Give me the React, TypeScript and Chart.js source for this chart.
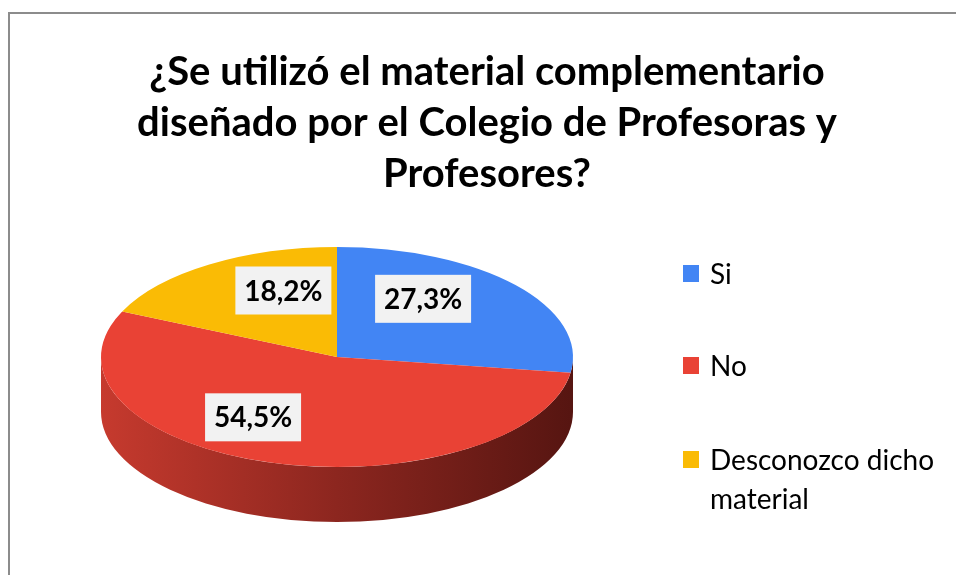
import React, { useEffect, useRef } from "react";
import { Chart, registerables } from "chart.js";

Chart.register(...registerables);

const categories = ["Si", "No", "Desconozco dicho material"];
const legendLines = [["Si"], ["No"], ["Desconozco dicho", "material"]];
const values = [27.3, 54.5, 18.2];
const valueLabels = ["27,3%", "54,5%", "18,2%"];
const titleLines = [
  "¿Se utilizó el material complementario",
  "diseñado por el Colegio de Profesoras y",
  "Profesores?",
];

const topColors = ["#4285f4", "#e94235", "#fabb05"];
const sideStops = [
  ["#2d5db0", "#1d3d75"],
  ["#c63a2e", "#8c261f", "#561511"],
  ["#b08603", "#705502"],
];
const labelNudge = [
  [-21, -15],
  [-44, -3],
  [23, -11],
];

const FONT = "Lato, 'Open Sans', sans-serif";
const CY = 357;
const RY = 110;
const DEPTH = 55;
const MIN_SIDE = 0.2; // side slivers narrower than this merge into the next slice's side

const pie3d = {
  id: "pie3d",
  beforeDatasetsDraw(chart: any) {
    const ctx = chart.ctx;
    const meta = chart.getDatasetMeta(0);
    const a0 = meta.data[0];
    const cx = a0.x;
    const cy0 = a0.y;
    const R = a0.outerRadius;
    const twoPi = Math.PI * 2;
    const segs: { s: number; e: number; i: number }[] = [];
    meta.data.forEach((arc: any, i: number) => {
      for (let off = -twoPi; off <= twoPi; off += twoPi) {
        const ss = Math.max(arc.startAngle + off, 0);
        const ee = Math.min(arc.endAngle + off, Math.PI);
        if (ee > ss) segs.push({ s: ss, e: ee, i });
      }
    });
    segs.sort((a, b) => a.s - b.s);
    const merged: { s: number; e: number; i: number }[] = [];
    segs.forEach((sg, k) => {
      if (sg.e - sg.s < MIN_SIDE && k + 1 < segs.length) {
        segs[k + 1].s = sg.s;
      } else merged.push(sg);
    });
    merged.forEach(({ s, e, i }) => {
      const g = ctx.createLinearGradient(cx - R, 0, cx + R, 0);
      const st = sideStops[i];
      st.forEach((c, j) => g.addColorStop(j / (st.length - 1), c));
      ctx.save();
      ctx.beginPath();
      ctx.ellipse(cx, CY, R, RY, 0, s, e, false);
      ctx.ellipse(cx, CY + DEPTH, R, RY, 0, e, s, true);
      ctx.closePath();
      ctx.fillStyle = g;
      ctx.fill();
      ctx.restore();
    });
    ctx.save();
    ctx.translate(0, CY);
    ctx.scale(1, RY / R);
    ctx.translate(0, -cy0);
  },
  afterDatasetsDraw(chart: any) {
    const ctx = chart.ctx;
    ctx.restore();
    const meta = chart.getDatasetMeta(0);
    ctx.save();
    meta.data.forEach((arc: any, i: number) => {
      const mid = (arc.startAngle + arc.endAngle) / 2;
      const R = arc.outerRadius;
      const px = arc.x + 0.6 * R * Math.cos(mid) + labelNudge[i][0];
      const py = CY + 0.6 * RY * Math.sin(mid) + labelNudge[i][1];
      ctx.fillStyle = "#f2f2f2";
      ctx.fillRect(px - 48, py - 24, 96, 48);
      ctx.fillStyle = "#000000";
      ctx.font = `bold 28px ${FONT}`;
      ctx.textAlign = "center";
      ctx.textBaseline = "middle";
      ctx.fillText(valueLabels[i], px, py + 1);
    });
    ctx.restore();
  },
  afterDraw(chart: any) {
    const ctx = chart.ctx;
    ctx.save();
    ctx.strokeStyle = "#8c8c8c";
    ctx.lineWidth = 2;
    ctx.beginPath();
    ctx.moveTo(9, 600);
    ctx.lineTo(9, 13);
    ctx.lineTo(1000, 13);
    ctx.stroke();
    ctx.fillStyle = "#000000";
    ctx.font = `bold 40px ${FONT}`;
    ctx.textAlign = "center";
    ctx.textBaseline = "alphabetic";
    titleLines.forEach((t, i) => ctx.fillText(t, 487, 85 + i * 51));
    const ys = [274, 366, 460];
    ctx.font = `28px ${FONT}`;
    ctx.textAlign = "left";
    ctx.textBaseline = "middle";
    legendLines.forEach((lines, i) => {
      ctx.fillStyle = topColors[i];
      ctx.fillRect(683, ys[i] - 9, 16, 17);
      ctx.fillStyle = "#000000";
      lines.forEach((l, j) => ctx.fillText(l, 710, ys[i] + 1 + j * 39));
    });
    ctx.restore();
  },
};

export default function App() {
  const ref = useRef<HTMLCanvasElement>(null);
  useEffect(() => {
    const chart = new Chart(ref.current!, {
      type: "pie",
      data: {
        labels: categories,
        datasets: [
          {
            data: values,
            backgroundColor: topColors,
            borderWidth: 0,
            clip: false as any,
          },
        ],
      },
      options: {
        animation: false,
        responsive: false,
        events: [],
        layout: { padding: { left: 101, right: 383, top: 0, bottom: 103 } },
        plugins: {
          legend: { display: false },
          title: { display: false },
          tooltip: { enabled: false },
        },
      },
      plugins: [pie3d],
    });
    return () => chart.destroy();
  }, []);
  return (
    <div style={{ position: "fixed", left: 0, top: 0, width: 956, height: 575, background: "#fff" }}>
      <canvas ref={ref} width={956} height={575} style={{ display: "block" }} />
    </div>
  );
}
